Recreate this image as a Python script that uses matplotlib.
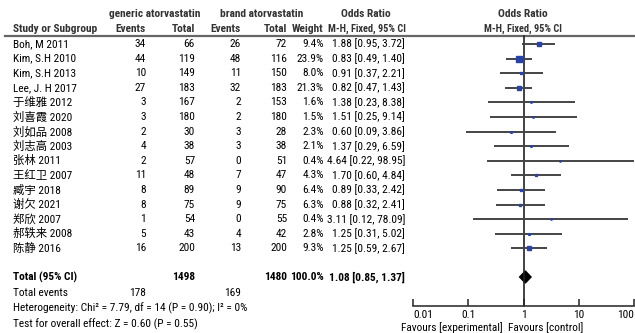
import matplotlib
matplotlib.use("Agg")
import matplotlib.pyplot as plt
from matplotlib import font_manager

# font: narrow latin if there is one, CJK as fallback
names = {f.name for f in font_manager.fontManager.ttflist}
narrow = ['Liberation Sans Narrow', 'Arial Narrow', 'Roboto Condensed', 'Open Sans Condensed']
latin = next((n for n in narrow if n in names), None)
if latin is None:
    latin = 'Liberation Sans'
    fs = 7.0
else:
    fs = 8.2
plt.rcParams['font.family'] = [latin, 'Noto Sans CJK SC', 'DejaVu Sans']

studies = ['Boh, M 2011', 'Kim, S.H 2010', 'Kim, S.H 2013', 'Lee, J. H 2017', '于维雅 2012',
           '刘喜霞 2020', '刘如品 2008', '刘志高 2003', '张林 2011', '王红卫 2007',
           '臧宇 2018', '谢欠 2021', '郑欣 2007', '郝轶来 2008', '陈静 2016']
gen_events = [34, 44, 10, 27, 3, 3, 2, 4, 2, 11, 8, 8, 1, 5, 16]
gen_total = [66, 119, 149, 183, 167, 180, 30, 38, 57, 48, 89, 75, 54, 43, 200]
brand_events = [26, 48, 11, 32, 2, 2, 3, 3, 0, 7, 9, 9, 0, 4, 13]
brand_total = [72, 116, 150, 183, 153, 180, 28, 38, 51, 47, 90, 75, 55, 42, 200]
weights = [9.4, 23.9, 8.0, 21.3, 1.6, 1.5, 2.3, 2.1, 0.4, 4.3, 6.4, 6.3, 0.4, 2.8, 9.3]
odds = [1.88, 0.83, 0.91, 0.82, 1.38, 1.51, 0.60, 1.37, 4.64, 1.70, 0.89, 0.88, 3.11, 1.25, 1.25]
ci_low = [0.95, 0.49, 0.37, 0.47, 0.23, 0.25, 0.09, 0.29, 0.22, 0.60, 0.33, 0.32, 0.12, 0.31, 0.59]
ci_high = [3.72, 1.40, 2.21, 1.43, 8.38, 9.14, 3.86, 6.59, 98.95, 4.84, 2.42, 2.41, 78.09, 5.02, 2.67]
total_gen, total_brand = 1498, 1480
events_gen, events_brand = 178, 169
total_or, total_lo, total_hi = 1.08, 0.85, 1.37
xticks = [0.01, 0.1, 1, 10, 100]
xtick_labels = ['0.01', '0.1', '1', '10', '100']

W, H = 635, 333
fig = plt.figure(figsize=(W / 100, H / 100), dpi=100)
ax = fig.add_axes([0, 0, 1, 1])
ax.set_xlim(0, W)
ax.set_ylim(H, 0)
ax.axis('off')

row_y = [44 + i * 14.6 for i in range(len(studies))]
y_total = 277
hc = '#333333'

# headers
ax.text(155, 14, 'generic atorvastatin', ha='center', va='center', fontsize=fs, fontweight='bold', color=hc)
ax.text(262, 14, 'brand atorvastatin', ha='center', va='center', fontsize=fs, fontweight='bold', color=hc)
ax.text(366, 14, 'Odds Ratio', ha='center', va='center', fontsize=fs, fontweight='bold', color=hc)
ax.text(523, 14, 'Odds Ratio', ha='center', va='center', fontsize=fs, fontweight='bold', color=hc)
hy = 29
ax.text(13, hy, 'Study or Subgroup', ha='left', va='center', fontsize=fs, fontweight='bold', color=hc)
ax.text(146, hy, 'Events', ha='right', va='center', fontsize=fs, fontweight='bold', color=hc)
ax.text(195, hy, 'Total', ha='right', va='center', fontsize=fs, fontweight='bold', color=hc)
ax.text(241, hy, 'Events', ha='right', va='center', fontsize=fs, fontweight='bold', color=hc)
ax.text(287, hy, 'Total', ha='right', va='center', fontsize=fs, fontweight='bold', color=hc)
ax.text(323, hy, 'Weight', ha='right', va='center', fontsize=fs, fontweight='bold', color=hc)
ax.text(406, hy, 'M-H, Fixed, 95% CI', ha='right', va='center', fontsize=fs * 0.9, fontweight='bold', color=hc)
ax.text(523, hy, 'M-H, Fixed, 95% CI', ha='center', va='center', fontsize=fs * 0.9, fontweight='bold', color=hc)
ax.plot([5, W], [36, 36], color='#666666', lw=1.6)

# study rows
for i, s in enumerate(studies):
    y = row_y[i]
    ax.text(13, y, s, ha='left', va='center', fontsize=fs)
    ax.text(146, y, str(gen_events[i]), ha='right', va='center', fontsize=fs)
    ax.text(195, y, str(gen_total[i]), ha='right', va='center', fontsize=fs)
    ax.text(241, y, str(brand_events[i]), ha='right', va='center', fontsize=fs)
    ax.text(287, y, str(brand_total[i]), ha='right', va='center', fontsize=fs)
    ax.text(324, y, f'{weights[i]:.1f}%', ha='right', va='center', fontsize=fs)
    ax.text(405, y, f'{odds[i]:.2f} [{ci_low[i]:.2f}, {ci_high[i]:.2f}]', ha='right', va='center', fontsize=fs)

# totals
ax.text(13, y_total, 'Total (95% CI)', ha='left', va='center', fontsize=fs, fontweight='bold')
ax.text(195, y_total, str(total_gen), ha='right', va='center', fontsize=fs, fontweight='bold')
ax.text(287, y_total, str(total_brand), ha='right', va='center', fontsize=fs, fontweight='bold')
ax.text(324, y_total, '100.0%', ha='right', va='center', fontsize=fs, fontweight='bold')
ax.text(405, y_total, f'{total_or:.2f} [{total_lo:.2f}, {total_hi:.2f}]', ha='right', va='center', fontsize=fs, fontweight='bold')
ax.text(13, 293, 'Total events', ha='left', va='center', fontsize=fs)
ax.text(146, 293, str(events_gen), ha='right', va='center', fontsize=fs)
ax.text(241, 293, str(events_brand), ha='right', va='center', fontsize=fs)
ax.text(13, 308, 'Heterogeneity: Chi² = 7.79, df = 14 (P = 0.90); I² = 0%', ha='left', va='center', fontsize=fs)
ax.text(13, 324, 'Test for overall effect: Z = 0.60 (P = 0.55)', ha='left', va='center', fontsize=fs)

# forest panel
x0, x1 = 413, 634
fa = fig.add_axes([x0 / W, 0, (x1 - x0) / W, 1])
fa.patch.set_alpha(0)
fa.set_xscale('log')
fa.set_xlim(0.01, 100)
fa.set_ylim(H, 0)
for sp in ['top', 'left', 'right']:
    fa.spines[sp].set_visible(False)
fa.spines['bottom'].set_position(('data', 306))
fa.spines['bottom'].set_color(hc)
fa.spines['bottom'].set_linewidth(1.2)
fa.set_yticks([])
fa.set_xticks(xticks)
fa.set_xticklabels(xtick_labels)
fa.minorticks_off()
fa.tick_params(axis='x', direction='in', length=5, width=1.2, color=hc, labelsize=fs, pad=3)
tl = fa.get_xticklabels()
tl[0].set_ha('left')
tl[-1].set_ha('right')

fa.plot([1, 1], [36, 306], color='#222222', lw=1.2)
for i in range(len(studies)):
    y = row_y[i]
    fa.plot([ci_low[i], ci_high[i]], [y, y], color='#444444', lw=1.4, solid_capstyle='butt', clip_on=False)
    size_px = 1.05 * weights[i] ** 0.5
    fa.plot(odds[i], y, marker='s', color='#2743a8', markersize=max(size_px, 1.2) * 0.72, lw=0)

fa.fill([total_lo, total_or, total_hi, total_or], [y_total, y_total - 6, y_total, y_total + 6], color='black')

ax.text(503, 328, 'Favours [experimental]', ha='right', va='center', fontsize=fs)
ax.text(508, 328, 'Favours [control]', ha='left', va='center', fontsize=fs)

fig.savefig('out.png', dpi=100)
